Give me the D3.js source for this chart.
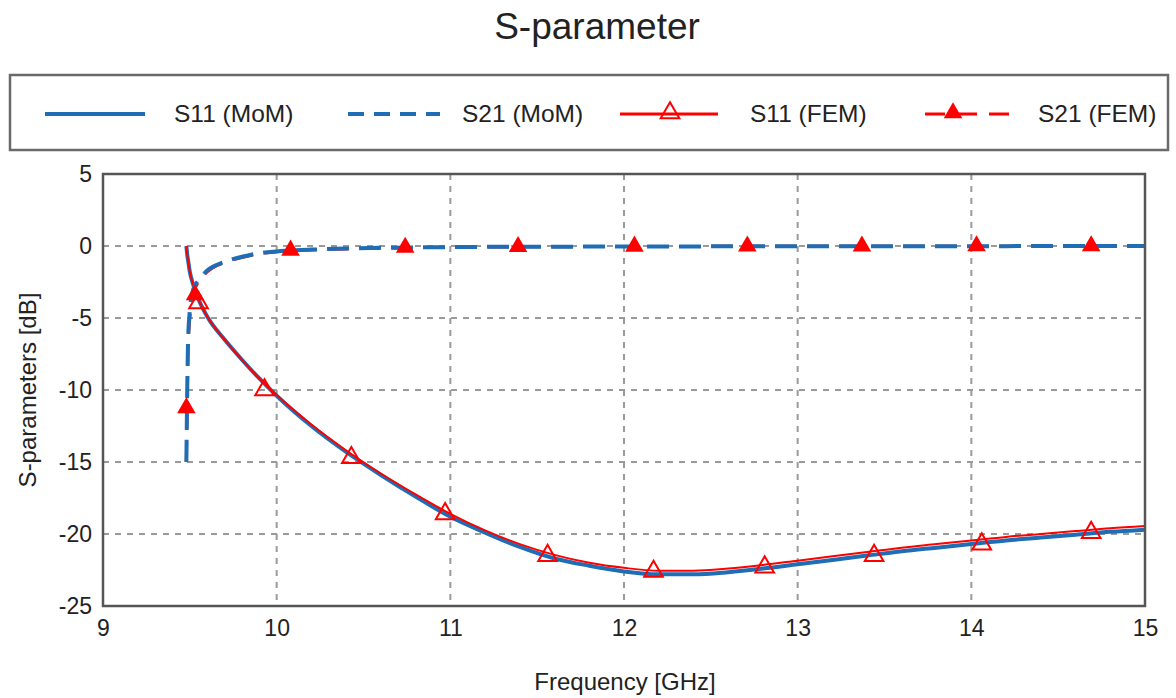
<!DOCTYPE html>
<html>
<head>
<meta charset="utf-8">
<script src="https://cdn.jsdelivr.net/npm/d3@7"></script>
<style>
  body { margin: 0; background: #fff; }
  text { font-family: "Liberation Sans", Arial, sans-serif; fill: #222; }
</style>
</head>
<body>
<svg id="chart" width="1176" height="698"></svg>
<script>
// ---- data ----
const freqMoM = [9.48, 9.485, 9.49, 9.5, 9.52, 9.55, 9.6, 9.7, 9.8, 9.9, 10.0, 10.2, 10.4, 10.6, 10.8, 11.0, 11.2, 11.4, 11.6, 11.8, 12.0, 12.2, 12.4, 12.6, 12.8, 13.0, 13.2, 13.4, 13.6, 13.8, 14.0, 14.2, 14.4, 14.6, 14.8, 15.0];
const s11MoM = [0, -0.6, -1.0, -1.8, -2.7, -3.7, -4.9, -6.5, -7.9, -9.2, -10.4, -12.5, -14.3, -15.9, -17.4, -18.8, -19.9, -20.9, -21.7, -22.2, -22.6, -22.8, -22.8, -22.65, -22.4, -22.1, -21.8, -21.5, -21.2, -20.95, -20.7, -20.45, -20.25, -20.05, -19.85, -19.7];
const s21MoM = [-15, -10, -6.5, -4.5, -3.0, -2.4, -1.7, -1.1, -0.75, -0.5, -0.38, -0.25, -0.18, -0.13, -0.1, -0.08, -0.06, -0.05, -0.05, -0.04, -0.03, -0.03, -0.03, -0.02, -0.02, -0.02, -0.02, -0.01, -0.01, -0.01, -0.01, -0.01, 0, 0, 0, 0];

const freqFEM = freqMoM;
const s11FEM = [0, -0.6, -1.0, -1.8, -2.7, -3.7, -4.9, -6.5, -7.9, -9.2, -10.35, -12.4, -14.2, -15.8, -17.25, -18.6, -19.75, -20.7, -21.45, -22.0, -22.35, -22.55, -22.55, -22.4, -22.15, -21.85, -21.55, -21.25, -20.95, -20.7, -20.45, -20.2, -20.0, -19.8, -19.6, -19.45];
const s21FEM = [-15, -11, -7, -5, -3.3, -2.5, -1.8, -1.15, -0.8, -0.55, -0.4, -0.27, -0.2, -0.15, -0.12, -0.09, -0.07, -0.06, -0.05, -0.04, -0.03, -0.03, -0.03, -0.02, -0.02, -0.02, -0.02, -0.01, -0.01, -0.01, -0.01, -0.01, 0, 0, 0, 0];

const s11MarkerFreq = [9.55, 9.93, 10.43, 10.97, 11.56, 12.17, 12.81, 13.44, 14.06, 14.69];
const s11MarkerVal = [-3.95, -10.0, -14.7, -18.6, -21.5, -22.6, -22.3, -21.5, -20.7, -19.9];
const s21MarkerFreq = [9.48, 9.53, 10.08, 10.74, 11.39, 12.06, 12.71, 13.37, 14.03, 14.69];
const s21MarkerVal = [-11.25, -3.4, -0.3, -0.1, -0.05, -0.02, -0.01, -0.01, 0, 0];

const xTicks = [9, 10, 11, 12, 13, 14, 15];
const yTicks = [5, 0, -5, -10, -15, -20, -25];
const legendLabels = ["S11 (MoM)", "S21 (MoM)", "S11 (FEM)", "S21 (FEM)"];

const blue = "#1f6db5";
const red = "#ff0000";

const svg = d3.select("#chart");
const margin = {left: 103, right: 1145, top: 174, bottom: 606};

const x = d3.scaleLinear().domain([9, 15]).range([margin.left, margin.right]);
const y = d3.scaleLinear().domain([-25, 5]).range([margin.bottom, margin.top]);

// title
svg.append("text")
  .attr("x", 597).attr("y", 39)
  .attr("text-anchor", "middle")
  .style("font-size", "37px")
  .text("S-parameter");

// grid
svg.append("g")
  .selectAll("line")
  .data(xTicks.slice(1, -1))
  .join("line")
  .attr("x1", d => x(d)).attr("x2", d => x(d))
  .attr("y1", margin.top).attr("y2", margin.bottom)
  .attr("stroke", "#9a9a9a").attr("stroke-width", 2)
  .attr("stroke-dasharray", "6,6");

svg.append("g")
  .selectAll("line")
  .data(yTicks.slice(1, -1))
  .join("line")
  .attr("x1", margin.left).attr("x2", margin.right)
  .attr("y1", d => y(d)).attr("y2", d => y(d))
  .attr("stroke", "#9a9a9a").attr("stroke-width", 2)
  .attr("stroke-dasharray", "6,6");

// axes (plain hyphen minus like the original)
let xAxis = svg.append("g")
  .attr("transform", `translate(0,${margin.bottom})`)
  .call(d3.axisBottom(x).tickValues(xTicks).tickSize(0).tickPadding(14).tickFormat(d => String(d)));
xAxis.select(".domain").remove();
xAxis.selectAll("text").style("font-size", "23px").attr("fill", "#222");

let yAxis = svg.append("g")
  .attr("transform", `translate(${margin.left},0)`)
  .call(d3.axisLeft(y).tickValues(yTicks).tickSize(0).tickPadding(11).tickFormat(d => String(d)));
yAxis.select(".domain").remove();
yAxis.selectAll("text").style("font-size", "23px").attr("fill", "#222");

// curves
svg.append("clipPath").attr("id", "clip")
  .append("rect")
  .attr("x", margin.left).attr("y", margin.top)
  .attr("width", margin.right - margin.left)
  .attr("height", margin.bottom - margin.top);

const plot = svg.append("g").attr("clip-path", "url(#clip)");

const line = d3.line()
  .x(d => x(d[0]))
  .y(d => y(d[1]))
  .curve(d3.curveMonotoneX);

const zip = (a, b) => a.map((v, i) => [v, b[i]]);

plot.append("path")
  .datum(zip(freqFEM, s21FEM))
  .attr("d", line)
  .attr("fill", "none").attr("stroke", red).attr("stroke-width", 3)
  .attr("stroke-dasharray", "20,12");

plot.append("path")
  .datum(zip(freqMoM, s11MoM))
  .attr("d", line)
  .attr("fill", "none").attr("stroke", blue).attr("stroke-width", 4);

plot.append("path")
  .datum(zip(freqFEM, s11FEM))
  .attr("d", line)
  .attr("fill", "none").attr("stroke", red).attr("stroke-width", 2);

plot.append("path")
  .datum(zip(freqMoM, s21MoM))
  .attr("d", line)
  .attr("fill", "none").attr("stroke", blue).attr("stroke-width", 4)
  .attr("stroke-dasharray", "22,10");

const tri = d3.symbol().type(d3.symbolTriangle).size(150);

plot.append("g")
  .selectAll("path")
  .data(zip(s11MarkerFreq, s11MarkerVal))
  .join("path")
  .attr("d", tri)
  .attr("transform", d => `translate(${x(d[0])},${y(d[1])})`)
  .attr("fill", "none").attr("stroke", red).attr("stroke-width", 2);

plot.append("g")
  .selectAll("path")
  .data(zip(s21MarkerFreq, s21MarkerVal))
  .join("path")
  .attr("d", tri)
  .attr("transform", d => `translate(${x(d[0])},${y(d[1])})`)
  .attr("fill", red);

// frame
svg.append("rect")
  .attr("x", margin.left).attr("y", margin.top)
  .attr("width", margin.right - margin.left)
  .attr("height", margin.bottom - margin.top)
  .attr("fill", "none").attr("stroke", "#555").attr("stroke-width", 2.5);

// axis labels
svg.append("text")
  .attr("x", 625).attr("y", 690)
  .attr("text-anchor", "middle")
  .style("font-size", "24px")
  .text("Frequency [GHz]");

svg.append("text")
  .attr("transform", "translate(36,390) rotate(-90)")
  .attr("text-anchor", "middle")
  .style("font-size", "24px")
  .text("S-parameters [dB]");

// legend
svg.append("rect")
  .attr("x", 10).attr("y", 75)
  .attr("width", 1158).attr("height", 75)
  .attr("fill", "#fff").attr("stroke", "#6a6a6a").attr("stroke-width", 2.5);

const legendItems = [
  {label: legendLabels[0], x1: 45, x2: 145, tx: 174, color: blue, w: 4, dash: null, marker: null},
  {label: legendLabels[1], x1: 348, x2: 440, tx: 462, color: blue, w: 4, dash: "16,10", marker: null},
  {label: legendLabels[2], x1: 620, x2: 718, tx: 750, color: red, w: 3, dash: null, marker: "open", mx: 670},
  {label: legendLabels[3], x1: 925, x2: 1010, tx: 1038, color: red, w: 3, dash: "20,12", marker: "filled", mx: 953}
];

const lg = svg.append("g")
  .selectAll("g")
  .data(legendItems)
  .join("g");

lg.append("line")
  .attr("x1", d => d.x1).attr("x2", d => d.x2)
  .attr("y1", 114).attr("y2", 114)
  .attr("stroke", d => d.color).attr("stroke-width", d => d.w)
  .attr("stroke-dasharray", d => d.dash);

lg.filter(d => d.marker)
  .append("path")
  .attr("d", tri)
  .attr("transform", d => `translate(${d.mx},113)`)
  .attr("fill", d => d.marker == "filled" ? red : "none")
  .attr("stroke", red).attr("stroke-width", d => d.marker == "filled" ? 0 : 2);

lg.append("text")
  .attr("x", d => d.tx).attr("y", 122)
  .style("font-size", "24.5px")
  .text(d => d.label);
</script>
</body>
</html>
